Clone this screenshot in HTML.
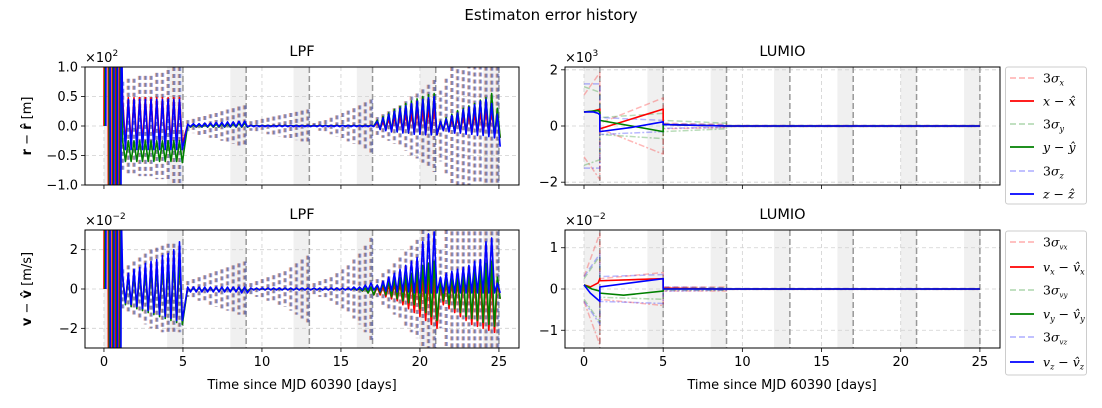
<!DOCTYPE html>
<html><head><meta charset="utf-8"><style>
html,body{margin:0;padding:0;background:#fff;width:1102px;height:408px;overflow:hidden}
svg{display:block;font-family:"DejaVu Sans","Liberation Sans",sans-serif}
</style></head><body>
<svg id="fig" width="1102" height="408" viewBox="0 0 1102 408" xmlns="http://www.w3.org/2000/svg">
<text x="551" y="20" text-anchor="middle" font-size="15">Estimaton error history</text>
</svg>
<script>
// ---------- data ----------
const xTicks = [0,5,10,15,20,25];
const shadeStarts = [0,4,8,12,16,20,24];
const passEnds = [1,5,9,13,17,21,25];
const spikeT = [1.18,1.54,1.90,2.26,2.62,2.98,3.34,3.70,4.06,4.42,4.78,
 5.30,5.66,6.02,6.38,6.74,7.10,7.46,7.82,8.18,8.54,8.90,
 9.30,9.66,10.02,10.38,10.74,11.10,11.46,11.82,12.18,12.54,12.90,
 13.30,13.66,14.02,14.38,14.74,15.10,15.46,15.82,16.18,16.54,16.90,
 17.30,17.66,18.02,18.38,18.74,19.10,19.46,19.82,20.18,20.54,20.90,
 21.30,21.66,22.02,22.38,22.74,23.10,23.46,23.82,24.18,24.54,24.90];
const initT = [0,0.03,0.26,0.29,0.5,0.53,0.72,0.75,0.94,0.97,1.0];
const initSwing = [0,1,1,-1,-1,1,1,-1,-1,0.3,0.3];

// top-left LPF position (x1e2 m)
const sigTL = [0.75,0.8,0.8,0.85,0.85,0.85,0.9,0.9,0.95,1.0,1.0,
 0.1,0.12,0.15,0.17,0.2,0.22,0.25,0.28,0.3,0.33,0.35,
 0.08,0.1,0.12,0.14,0.16,0.18,0.2,0.22,0.24,0.26,0.28,
 0.05,0.08,0.1,0.14,0.18,0.22,0.26,0.3,0.35,0.4,0.45,
 0.15,0.2,0.25,0.3,0.35,0.42,0.5,0.55,0.62,0.7,0.78,
 0.6,0.8,1.0,1.2,1.3,1.4,1.5,1.5,1.6,1.6,1.6];
const zPkTL = [0.4,0.45,0.45,0.45,0.45,0.45,0.45,0.45,0.45,0.45,0.45,
 0.03,0.04,0.04,0.05,0.05,0.06,0.06,0.07,0.07,0.08,0.08,
 0.01,0.01,0.01,0.01,0.01,0.01,0.01,0.01,0.01,0.01,0.01,
 0.01,0.01,0.01,0.01,0.01,0.01,0.01,0.01,0.01,0.01,0.01,
 0.08,0.14,0.2,0.25,0.3,0.34,0.38,0.42,0.45,0.48,0.5,
 0.08,0.12,0.18,0.22,0.28,0.32,0.36,0.42,0.45,0.38,0.2];
const zTrTL = [-0.4,-0.4,-0.4,-0.4,-0.4,-0.4,-0.4,-0.4,-0.4,-0.4,-0.4,
 -0.01,-0.01,-0.01,-0.01,-0.01,-0.01,-0.01,-0.01,-0.01,-0.01,-0.01,
 -0.01,-0.01,-0.01,-0.01,-0.01,-0.01,-0.01,-0.01,-0.01,-0.01,-0.01,
 -0.01,-0.01,-0.01,-0.01,-0.01,-0.01,-0.01,-0.01,-0.01,-0.01,-0.01,
 -0.06,-0.08,-0.1,-0.1,-0.12,-0.12,-0.14,-0.14,-0.15,-0.15,-0.15,
 -0.08,-0.1,-0.12,-0.12,-0.14,-0.14,-0.16,-0.16,-0.18,-0.2,-0.35];
const xPkTL = [0.46,0.48,0.48,0.48,0.48,0.48,0.48,0.48,0.48,0.48,0.48,
 0.02,0.02,0.03,0.03,0.03,0.04,0.04,0.04,0.05,0.05,0.05,
 0.01,0.01,0.01,0.01,0.01,0.01,0.01,0.01,0.01,0.01,0.01,
 0.01,0.01,0.01,0.01,0.01,0.01,0.01,0.01,0.01,0.01,0.01,
 0.05,0.08,0.12,0.15,0.18,0.2,0.22,0.25,0.27,0.28,0.3,
 0.05,0.08,0.1,0.13,0.16,0.18,0.2,0.22,0.25,0.25,0.2];
const xTrTL = [-0.3,-0.3,-0.3,-0.3,-0.3,-0.3,-0.3,-0.3,-0.3,-0.3,-0.3,
 -0.01,-0.01,-0.01,-0.01,-0.01,-0.01,-0.01,-0.01,-0.01,-0.01,-0.01,
 0,0,0,0,0,0,0,0,0,0,0, 0,0,0,0,0,0,0,0,0,0,0,
 -0.05,-0.06,-0.08,-0.08,-0.1,-0.1,-0.12,-0.12,-0.14,-0.14,-0.15,
 -0.05,-0.06,-0.08,-0.1,-0.1,-0.12,-0.12,-0.14,-0.14,-0.16,-0.2];
const yPkTL = [-0.25,-0.25,-0.25,-0.25,-0.25,-0.25,-0.25,-0.25,-0.25,-0.25,-0.25,
 0.02,0.02,0.02,0.03,0.03,0.03,0.04,0.04,0.04,0.05,0.05,
 0.01,0.01,0.01,0.01,0.01,0.01,0.01,0.01,0.01,0.01,0.01,
 0.01,0.01,0.01,0.01,0.01,0.01,0.01,0.01,0.01,0.01,0.01,
 0.1,0.16,0.22,0.28,0.33,0.38,0.42,0.46,0.5,0.53,0.55,
 0.08,0.14,0.2,0.26,0.3,0.34,0.38,0.44,0.48,0.55,0.3];
const yTrTL = [-0.6,-0.6,-0.6,-0.6,-0.6,-0.6,-0.6,-0.6,-0.6,-0.6,-0.62,
 -0.02,-0.02,-0.02,-0.02,-0.02,-0.02,-0.02,-0.02,-0.02,-0.02,-0.02,
 0,0,0,0,0,0,0,0,0,0,0, 0,0,0,0,0,0,0,0,0,0,0,
 -0.05,-0.06,-0.08,-0.1,-0.1,-0.12,-0.12,-0.14,-0.14,-0.15,-0.15,
 -0.06,-0.08,-0.1,-0.1,-0.12,-0.12,-0.14,-0.14,-0.16,-0.18,-0.2];

// bottom-left LPF velocity (x1e-2 m/s)
const sigBL = [1.0,1.2,1.4,1.6,1.8,2.0,2.1,2.2,2.3,2.3,2.2,
 0.4,0.5,0.6,0.7,0.8,0.9,1.0,1.1,1.2,1.3,1.4,
 0.3,0.4,0.5,0.6,0.7,0.8,0.9,1.1,1.3,1.5,1.7,
 0.3,0.4,0.5,0.6,0.8,1.0,1.2,1.5,1.8,2.2,2.6,
 0.5,0.8,1.0,1.3,1.6,1.9,2.2,2.5,3.0,3.5,4.0,
 2.0,3.0,4.0,4.0,4.0,4.0,4.0,4.0,4.0,4.0,4.0];
const zPkBL = [0.7,0.8,1.0,1.1,1.3,1.4,1.5,1.7,1.8,2.0,2.4,
 0.1,0.1,0.1,0.1,0.1,0.1,0.1,0.1,0.1,0.1,0.1,
 0.05,0.05,0.05,0.05,0.05,0.05,0.05,0.05,0.05,0.05,0.05,
 0.05,0.05,0.05,0.05,0.05,0.05,0.05,0.1,0.1,0.2,0.3,
 0.2,0.4,0.6,0.8,1.0,1.2,1.4,1.6,2.4,2.8,2.9,
 0.6,0.8,0.9,1.0,1.1,1.2,1.4,1.5,2.4,2.6,0.3];
const zTrBL = [-0.7,-0.8,-0.9,-1.0,-1.1,-1.2,-1.3,-1.4,-1.5,-1.6,-1.6,
 -0.15,-0.15,-0.15,-0.15,-0.15,-0.15,-0.15,-0.15,-0.15,-0.2,-0.2,
 -0.05,-0.05,-0.05,-0.05,-0.05,-0.05,-0.05,-0.05,-0.05,-0.05,-0.05,
 -0.05,-0.05,-0.05,-0.05,-0.05,-0.05,-0.05,-0.05,-0.05,-0.05,-0.05,
 -0.1,-0.1,-0.1,-0.15,-0.15,-0.15,-0.2,-0.2,-0.2,-0.2,-0.2,
 -0.2,-0.2,-0.2,-0.2,-0.2,-0.2,-0.2,-0.2,-0.2,-0.2,-0.2];
const xPkBL = [0.6,0.7,0.8,0.9,1.0,1.1,1.2,1.3,1.4,1.5,1.6,
 0.05,0.05,0.05,0.05,0.05,0.05,0.05,0.05,0.05,0.05,0.05,
 0.02,0.02,0.02,0.02,0.02,0.02,0.02,0.02,0.02,0.02,0.02,
 0.02,0.02,0.02,0.02,0.02,0.02,0.02,0.02,0.02,0.05,0.1,
 0.1,0.15,0.2,0.25,0.3,0.35,0.4,0.45,0.5,0.5,0.5,
 0.3,0.35,0.4,0.45,0.5,0.5,0.5,0.5,0.5,0.5,0.3];
const xTrBL = [-0.7,-0.8,-0.9,-1.0,-1.1,-1.2,-1.3,-1.4,-1.5,-1.6,-1.7,
 -0.1,-0.1,-0.1,-0.1,-0.1,-0.1,-0.1,-0.1,-0.1,-0.1,-0.1,
 -0.03,-0.03,-0.03,-0.03,-0.03,-0.03,-0.03,-0.03,-0.03,-0.03,-0.03,
 -0.03,-0.03,-0.03,-0.03,-0.03,-0.03,-0.03,-0.05,-0.1,-0.2,-0.3,
 -0.3,-0.4,-0.5,-0.6,-0.8,-1.0,-1.2,-1.4,-1.6,-1.8,-2.0,
 -0.8,-1.0,-1.2,-1.4,-1.6,-1.8,-1.9,-2.0,-2.1,-2.2,-0.5];
const yPkBL = [0.6,0.7,0.8,0.9,1.0,1.1,1.2,1.3,1.4,1.5,1.6,
 0.05,0.05,0.05,0.05,0.05,0.05,0.05,0.05,0.05,0.05,0.05,
 0.02,0.02,0.02,0.02,0.02,0.02,0.02,0.02,0.02,0.02,0.02,
 0.02,0.02,0.02,0.02,0.02,0.02,0.02,0.02,0.02,0.05,0.1,
 0.2,0.3,0.4,0.5,0.6,0.7,0.8,1.0,1.2,1.3,1.4,
 0.5,0.6,0.7,0.8,0.9,1.0,1.1,1.2,1.3,1.4,0.6];
const yTrBL = [-0.8,-0.9,-1.0,-1.1,-1.2,-1.3,-1.4,-1.5,-1.6,-1.7,-1.8,
 -0.1,-0.1,-0.1,-0.1,-0.1,-0.1,-0.1,-0.1,-0.1,-0.1,-0.1,
 -0.03,-0.03,-0.03,-0.03,-0.03,-0.03,-0.03,-0.03,-0.03,-0.03,-0.03,
 -0.03,-0.03,-0.03,-0.03,-0.03,-0.03,-0.03,-0.05,-0.1,-0.2,-0.3,
 -0.2,-0.3,-0.4,-0.5,-0.6,-0.7,-0.8,-1.0,-1.2,-1.4,-1.6,
 -0.6,-0.8,-1.0,-1.2,-1.4,-1.5,-1.6,-1.7,-1.8,-1.9,-0.5];

// top-right LUMIO position (x1e3 m)
const xErrTRt = [0,0.5,0.9,1.0,1.0,5.0,5.0,9,25];
const xErrTR  = [0.5,0.52,0.58,0.6,-0.1,0.6,0.05,0,0];
const yErrTRt = [0,0.9,1.0,1.0,5.0,5.0,9,25];
const yErrTR  = [0.5,0.55,0.5,0.2,-0.2,0.05,0,0];
const zErrTRt = [0,0.6,0.9,1.0,1.0,3.0,5.0,5.0,9,25];
const zErrTR  = [0.5,0.5,0.45,0.4,-0.2,-0.05,0.15,0.05,0,0];
const sigTRt = [0,1.0,1.0,5.0,5.0,9,9,25];
const sxTR = [1.1,1.9,0.1,1.0,0.1,0.05,0.02,0.02];
const syTR = [1.4,1.2,0.3,0.45,0.2,0.1,0.02,0.02];
const szTR = [1.5,1.5,0.3,0.2,0.08,0.05,0.02,0.02];

// bottom-right LUMIO velocity (x1e-2 m/s)
const xErrBRt = [0,0.4,0.9,1.0,1.0,5.0,5.0,9,25];
const xErrBR  = [0.1,0.05,0.15,0.25,0.2,0.25,0.02,0,0];
const yErrBRt = [0,0.5,1.0,1.0,2.5,5.0,5.0,9,25];
const yErrBR  = [0.1,0.0,-0.05,-0.1,-0.15,-0.05,0,0,0];
const zErrBRt = [0,0.4,1.0,1.0,5.0,5.0,9,25];
const zErrBR  = [0.1,-0.1,-0.3,0.05,0.25,0,0,0];
const sigBRt = [0,1.0,1.0,5.0,5.0,9,9,25];
const sxBR = [0.3,1.35,0.25,0.4,0.05,0.05,0.01,0.01];
const syBR = [0.25,0.8,0.2,0.25,0.03,0.03,0.01,0.01];
const szBR = [0.3,0.85,0.3,0.35,0.05,0.03,0.01,0.01];

// ---------- drawing ----------
const NS = "http://www.w3.org/2000/svg";
const svg = document.getElementById('fig');
const XMIN = -1.2, XMAX = 26.27;
function el(tag, attrs, parent){
  const e = document.createElementNS(NS, tag);
  for (const k in attrs) e.setAttribute(k, attrs[k]);
  (parent||svg).appendChild(e);
  return e;
}
const RED='rgb(255,0,0)', GRN='rgb(0,128,0)', BLU='rgb(0,0,255)';
function makeAxes(id, x0, x1, y0, y1, ymin, ymax, yt, ytLabels, title, expo, showXLabels){
  const ax = {x0,x1,y0,y1,ymin,ymax};
  ax.sx = t => x0 + (t - XMIN) / (XMAX - XMIN) * (x1 - x0);
  ax.sy = v => y1 - (v - ymin) / (ymax - ymin) * (y1 - y0);
  const defs = el('defs', {});
  const cp = el('clipPath', {id:'clip-'+id}, defs);
  el('rect', {x:x0, y:y0, width:x1-x0, height:y1-y0}, cp);
  const g = el('g', {});
  
  
  ax.g = g;
  const plot = el('g', {'clip-path':'url(#clip-'+id+')'}, g);
  
  
  ax.plot = plot;
  shadeStarts.forEach(s => {
    const r = el('rect', {x:ax.sx(s), y:y0, width:ax.sx(s+1)-ax.sx(s), height:y1-y0, fill:'rgba(128,128,128,0.12)'}, plot);
    
    
  });
  xTicks.forEach(t => {
    el('line', {x1:ax.sx(t), x2:ax.sx(t), y1:y0, y2:y1, stroke:'#d0d0d0', 'stroke-width':0.8, 'stroke-dasharray':'4,3'}, plot);
  });
  yt.forEach(v => {
    el('line', {x1:x0, x2:x1, y1:ax.sy(v), y2:ax.sy(v), stroke:'#d0d0d0', 'stroke-width':0.8, 'stroke-dasharray':'4,3'}, plot);
  });
  passEnds.forEach(t => {
    const l = el('line', {x1:ax.sx(t), x2:ax.sx(t), y1:y0, y2:y1, stroke:'#999', 'stroke-width':1.5, 'stroke-dasharray':'6,3'}, plot);
    
    
  });
  xTicks.forEach(t => {
    el('line', {x1:ax.sx(t), x2:ax.sx(t), y1:y1, y2:y1+4, stroke:'#000', 'stroke-width':0.8}, g);
    if (showXLabels){
      const tx = el('text', {x:ax.sx(t), y:y1+18, 'text-anchor':'middle', 'font-size':13}, g);
      tx.textContent = t;
      
      
    }
  });
  yt.forEach((v,i) => {
    el('line', {x1:x0-4, x2:x0, y1:ax.sy(v), y2:ax.sy(v), stroke:'#000', 'stroke-width':0.8}, g);
    const tx = el('text', {x:x0-7, y:ax.sy(v)+4.5, 'text-anchor':'end', 'font-size':13}, g);
    tx.textContent = ytLabels[i];
    
    
  });
  const tt = el('text', {x:(x0+x1)/2, y:y0-11, 'text-anchor':'middle', 'font-size':14.5}, g);
  tt.textContent = title;
  
  
  const ex = el('text', {x:x0, y:y0-5, 'font-size':13}, g);
  ex.innerHTML = '×10<tspan font-size="9" dy="-6">'+expo+'</tspan>';
  
  
  return ax;
}
function finishAxes(ax){
  const r = el('rect', {x:ax.x0, y:ax.y0, width:ax.x1-ax.x0, height:ax.y1-ax.y0, fill:'none', stroke:'#000', 'stroke-width':1}, ax.g);
  
  
}
function linePath(ax, ts, vs, color, width, name, dash){
  let d = '';
  ts.forEach((t,i) => { d += (i ? 'L' : 'M') + ax.sx(t).toFixed(2) + ',' + ax.sy(vs[i]).toFixed(2); });
  const p = el('path', {d, fill:'none', stroke:color, 'stroke-width':width, 'stroke-linejoin':'round'}, ax.plot);
  if (dash) p.setAttribute('stroke-dasharray', dash);
  
  
  return p;
}
function oscSeries(ax, big, pk, tr, color, off, name){
  const ts = [], vs = [];
  initT.forEach((t,i) => { ts.push(t + off); vs.push(initSwing[i] * big); });
  spikeT.forEach((t,i) => {
    ts.push(t); vs.push(pk[i]);
    ts.push(t + 0.18); vs.push(tr[i]);
  });
  linePath(ax, ts, vs, color, 1.6, name);
}
function sigmaSpikes(ax, sig, color, off, name){
  let d = '';
  spikeT.forEach((t,i) => {
    const x = ax.sx(t + off).toFixed(2);
    d += 'M' + x + ',' + ax.sy(sig[i]).toFixed(2) + 'L' + x + ',' + ax.sy(-sig[i]).toFixed(2);
  });
  const p = el('path', {d, fill:'none', stroke:color, 'stroke-width':2.5, 'stroke-dasharray':'4,3'}, ax.plot);
  
  
}
function sigmaBand(ax, ts, s, color, name){
  linePath(ax, ts, s, color, 1.5, name+'-upper', '6,3');
  linePath(ax, ts, s.map(v => -v), color, 1.5, name+'-lower', '6,2,2,2');
}
const sRed='rgba(255,0,0,0.28)', sGrn='rgba(0,128,0,0.28)', sBlu='rgba(0,0,255,0.28)';

// Top-left
const TL = makeAxes('lpf-position', 85, 519, 67, 185, -1, 1, [-1,-0.5,0,0.5,1], ['−1.0','−0.5','0.0','0.5','1.0'], 'LPF', '2', false);
sigmaSpikes(TL, sigTL, sRed, -0.04, 'lpf-sigma-x');
sigmaSpikes(TL, sigTL, sGrn, 0.0, 'lpf-sigma-y');
sigmaSpikes(TL, sigTL, sBlu, 0.04, 'lpf-sigma-z');
oscSeries(TL, 5, xPkTL, xTrTL, RED, 0.0, 'lpf-x-error');
oscSeries(TL, 5, yPkTL, yTrTL, GRN, 0.06, 'lpf-y-error');
oscSeries(TL, 5, zPkTL, zTrTL, BLU, 0.12, 'lpf-z-error');
finishAxes(TL);

// Top-right
const TR = makeAxes('lumio-position', 565, 1000, 67, 185, -2.1, 2.1, [-2,0,2], ['−2','0','2'], 'LUMIO', '3', false);
sigmaBand(TR, sigTRt, sxTR, sRed, 'lumio-sigma-x');
sigmaBand(TR, sigTRt, syTR, sGrn, 'lumio-sigma-y');
sigmaBand(TR, sigTRt, szTR, sBlu, 'lumio-sigma-z');
linePath(TR, xErrTRt, xErrTR, RED, 1.6, 'lumio-x-error');
linePath(TR, yErrTRt, yErrTR, GRN, 1.6, 'lumio-y-error');
linePath(TR, zErrTRt, zErrTR, BLU, 1.6, 'lumio-z-error');
finishAxes(TR);

// Bottom-left
const BL = makeAxes('lpf-velocity', 85, 519, 230, 348, -3, 3, [-2,0,2], ['−2','0','2'], 'LPF', '−2', true);
sigmaSpikes(BL, sigBL, sRed, -0.04, 'lpf-sigma-vx');
sigmaSpikes(BL, sigBL, sGrn, 0.0, 'lpf-sigma-vy');
sigmaSpikes(BL, sigBL, sBlu, 0.04, 'lpf-sigma-vz');
oscSeries(BL, 10, xPkBL, xTrBL, RED, 0.0, 'lpf-vx-error');
oscSeries(BL, 10, yPkBL, yTrBL, GRN, 0.06, 'lpf-vy-error');
oscSeries(BL, 10, zPkBL, zTrBL, BLU, 0.12, 'lpf-vz-error');
finishAxes(BL);

// Bottom-right
const BR = makeAxes('lumio-velocity', 565, 1000, 230, 348, -1.43, 1.43, [-1,0,1], ['−1','0','1'], 'LUMIO', '−2', true);
sigmaBand(BR, sigBRt, sxBR, sRed, 'lumio-sigma-vx');
sigmaBand(BR, sigBRt, syBR, sGrn, 'lumio-sigma-vy');
sigmaBand(BR, sigBRt, szBR, sBlu, 'lumio-sigma-vz');
linePath(BR, xErrBRt, xErrBR, RED, 1.6, 'lumio-vx-error');
linePath(BR, yErrBRt, yErrBR, GRN, 1.6, 'lumio-vy-error');
linePath(BR, zErrBRt, zErrBR, BLU, 1.6, 'lumio-vz-error');
finishAxes(BR);

// axis labels
[['x-axis-title-left',302],['x-axis-title-right',782]].forEach(a => {
  const t = el('text', {x:a[1], y:389, 'text-anchor':'middle', 'font-size':13});
  t.textContent = 'Time since MJD 60390 [days]';
  
  
});
const yl1 = el('text', {x:0, y:0, 'text-anchor':'middle', 'font-size':13, transform:'translate(31,126) rotate(-90)'});
yl1.innerHTML = '<tspan font-weight="bold">r</tspan> − <tspan font-weight="bold">r̂</tspan> [m]';


const yl2 = el('text', {x:0, y:0, 'text-anchor':'middle', 'font-size':13, transform:'translate(31,289) rotate(-90)'});
yl2.innerHTML = '<tspan font-weight="bold">v</tspan> − <tspan font-weight="bold">v̂</tspan> [m/s]';



// legends
function legend(name, y0, h, rows, entries){
  const g = el('g', {});
  
  
  el('rect', {x:1005.5, y:y0, width:81, height:h, rx:2.5, fill:'#fff', stroke:'#ccc', 'stroke-width':1}, g);
  entries.forEach((e,i) => {
    const y = rows[i];
    const l = el('line', {x1:1010, x2:1034, y1:y, y2:y, stroke:e[0], 'stroke-width':1.8}, g);
    if (e[1]) l.setAttribute('stroke-dasharray', '6,3');
    const t = el('text', {x:1043, y:y+4.5, 'font-size':12.5, 'font-family':'"DejaVu Serif","Liberation Serif",serif', 'font-style':'italic'}, g);
    t.innerHTML = e[2];
    
    
  });
}
legend('legend-position', 67, 137, [78,101,124,147,171,194], [
  [sRed,true,'<tspan font-style="normal">3</tspan>σ<tspan font-size="8" dy="3">x</tspan>'],
  [RED,false,'x − x̂'],
  [sGrn,true,'<tspan font-style="normal">3</tspan>σ<tspan font-size="8" dy="3">y</tspan>'],
  [GRN,false,'y − ŷ'],
  [sBlu,true,'<tspan font-style="normal">3</tspan>σ<tspan font-size="8" dy="3">z</tspan>'],
  [BLU,false,'z − ẑ']]);
legend('legend-velocity', 231, 144, [242,267,290,314,337,362], [
  [sRed,true,'<tspan font-style="normal">3</tspan>σ<tspan font-size="7" dy="3">vx</tspan>'],
  [RED,false,'v<tspan font-size="8" dy="3">x</tspan><tspan dy="-3"> − v̂</tspan><tspan font-size="8" dy="3">x</tspan>'],
  [sGrn,true,'<tspan font-style="normal">3</tspan>σ<tspan font-size="7" dy="3">vy</tspan>'],
  [GRN,false,'v<tspan font-size="8" dy="3">y</tspan><tspan dy="-3"> − v̂</tspan><tspan font-size="8" dy="3">y</tspan>'],
  [sBlu,true,'<tspan font-style="normal">3</tspan>σ<tspan font-size="7" dy="3">vz</tspan>'],
  [BLU,false,'v<tspan font-size="8" dy="3">z</tspan><tspan dy="-3"> − v̂</tspan><tspan font-size="8" dy="3">z</tspan>']]);
</script>
</body></html>
